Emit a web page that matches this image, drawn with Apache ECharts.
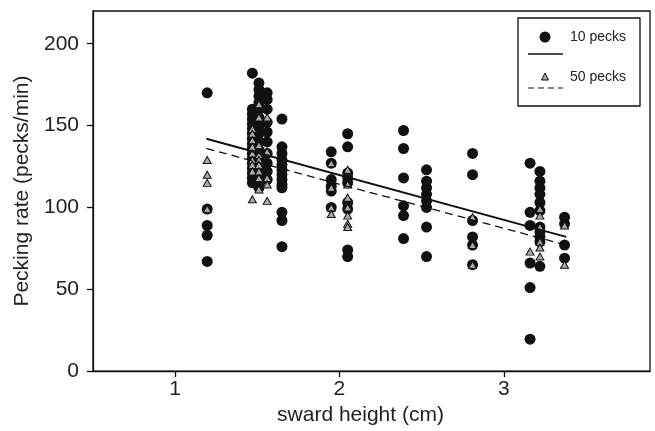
<!DOCTYPE html>
<html>
<head>
<meta charset="utf-8">
<script src="https://cdn.jsdelivr.net/npm/echarts@6/dist/echarts.min.js"></script>
<style>html,body{margin:0;padding:0;background:#fff}#c{width:655px;height:431px}</style>
</head>
<body>
<div id="c"></div>
<script>
// 10 pecks observations [sward height, pecking rate]
const pecks10 = [
  [1.195,170],[1.195,99],[1.195,89],[1.195,83],[1.195,67],
  [1.47,182],[1.47,160],[1.47,157],[1.47,154],[1.47,151],[1.47,148],[1.47,145],[1.47,142],[1.47,139],[1.47,136],[1.47,133],[1.47,130],[1.47,127],[1.47,124],[1.47,121],[1.47,118],[1.47,115],
  [1.51,176],[1.51,172],[1.51,168],[1.51,164],[1.51,160],[1.51,155],[1.51,150],[1.51,145],[1.51,140],[1.51,135],[1.51,130],[1.51,125],[1.51,120],[1.51,115],[1.51,112],
  [1.56,170],[1.56,166],[1.56,160],[1.56,152],[1.56,146],[1.56,140],[1.56,133],[1.56,127],[1.56,122],[1.56,117],
  [1.65,154],[1.65,137],[1.65,133],[1.65,129],[1.65,126],[1.65,123],[1.65,120],[1.65,117],[1.65,114],[1.65,112],[1.65,97],[1.65,92],[1.65,76],
  [1.95,134],[1.95,127],[1.95,117],[1.95,113],[1.95,110],[1.95,100],
  [2.05,145],[2.05,137],[2.05,121],[2.05,118],[2.05,115],[2.05,103],[2.05,99],[2.05,74],[2.05,70],
  [2.39,147],[2.39,136],[2.39,118],[2.39,101],[2.39,95],[2.39,81],
  [2.53,123],[2.53,116],[2.53,112],[2.53,108],[2.53,104],[2.53,100],[2.53,88],[2.53,70],
  [2.81,133],[2.81,120],[2.81,92],[2.81,82],[2.81,77],[2.81,65],
  [3.16,127],[3.16,97],[3.16,89],[3.16,66],[3.16,51],[3.16,19.5],
  [3.22,122],[3.22,116],[3.22,112],[3.22,108],[3.22,103],[3.22,98],[3.22,88],[3.22,85],[3.22,82],[3.22,79],[3.22,64],
  [3.37,94],[3.37,90],[3.37,77],[3.37,69]
];
// 50 pecks observations
const pecks50 = [
  [1.195,129],[1.195,120],[1.195,115],[1.195,99],
  [1.47,148],[1.47,145],[1.47,141],[1.47,137],[1.47,133],[1.47,129],[1.47,126],[1.47,122],[1.47,105],
  [1.51,163],[1.51,155],[1.51,138],[1.51,132],[1.51,129],[1.51,126],[1.51,122],[1.51,118],[1.51,111],
  [1.56,155],[1.56,134],[1.56,118],[1.56,114],[1.56,104],
  [1.95,127],[1.95,112],[1.95,100],[1.95,96],
  [2.05,123],[2.05,114],[2.05,106],[2.05,100],[2.05,95],[2.05,90],[2.05,88],
  [2.81,94],[2.81,77],[2.81,65],
  [3.16,73],
  [3.22,99],[3.22,95],[3.22,88],[3.22,79],[3.22,75.5],[3.22,70],
  [3.37,89],[3.37,65]
];
// regression lines (end points)
const fit10 = [[1.19,142],[3.38,82]];
const fit50 = [[1.19,136],[3.38,77]];
const xTicks = [1,2,3];
const yTicks = [0,50,100,150,200];
const legendNames = ['10 pecks','50 pecks'];

const chart = echarts.init(document.getElementById('c'), null, {renderer:'canvas'});
const font = 'Liberation Sans, Arial, sans-serif';
chart.setOption({
  animation:false,
  backgroundColor:'#fff',
  grid:{left:93,right:5,top:11,bottom:59,show:true,borderColor:'#111',borderWidth:1.3,backgroundColor:'transparent'},
  xAxis:{type:'value',min:0.5,max:3.89,
    name:'sward height (cm)',nameLocation:'middle',nameGap:30,
    nameTextStyle:{fontFamily:font,fontSize:21,color:'#222',padding:[0,22,0,0]},
    axisLine:{show:true,onZero:false,lineStyle:{color:'#111',width:1.3}},
    axisTick:{show:true,inside:false,length:6,customValues:xTicks,lineStyle:{color:'#111',width:1.3}},
    axisLabel:{customValues:xTicks,fontFamily:font,fontSize:21,color:'#222',margin:8},
    splitLine:{show:false}},
  yAxis:{type:'value',min:0,max:220,
    name:'Pecking rate (pecks/min)',nameLocation:'middle',nameGap:58,
    nameTextStyle:{fontFamily:font,fontSize:21,color:'#222'},
    axisLine:{show:true,onZero:false,lineStyle:{color:'#111',width:1.3}},
    axisTick:{show:true,inside:false,length:6,customValues:yTicks,lineStyle:{color:'#111',width:1.3}},
    axisLabel:{customValues:yTicks,fontFamily:font,fontSize:21,color:'#222',margin:14},
    splitLine:{show:false}},
  series:[
    {name:legendNames[0],type:'scatter',data:pecks10,symbol:'circle',symbolSize:11,
     itemStyle:{color:'#111',opacity:1},z:2},
    {name:legendNames[1],type:'scatter',data:pecks50,symbol:'triangle',symbolSize:[8,7],
     itemStyle:{color:'#aaa',borderColor:'#111',borderWidth:1,opacity:1},z:3},
    {type:'line',data:fit10,showSymbol:false,lineStyle:{color:'#111',width:2,type:'solid'},z:4},
    {type:'line',data:fit50,showSymbol:false,lineStyle:{color:'#111',width:1.3,type:[8,5]},z:4}
  ],
  graphic:[
    {type:'rect',shape:{x:518,y:18,width:122,height:88},style:{fill:'#fff',stroke:'#111',lineWidth:1.3},z:10},
    {type:'circle',shape:{cx:545,cy:37,r:5.5},style:{fill:'#111'},z:11},
    {type:'text',x:570,y:37,style:{text:legendNames[0],font:'14px '+font,fill:'#222',textVerticalAlign:'middle'},z:11},
    {type:'line',shape:{x1:528,y1:54,x2:563,y2:54},style:{stroke:'#111',lineWidth:1.6},z:11},
    {type:'polygon',shape:{points:[[545,73],[541.5,80],[548.5,80]]},style:{fill:'#aaa',stroke:'#111',lineWidth:1},z:11},
    {type:'text',x:570,y:77,style:{text:legendNames[1],font:'14px '+font,fill:'#222',textVerticalAlign:'middle'},z:11},
    {type:'line',shape:{x1:528,y1:88,x2:563,y2:88},style:{stroke:'#111',lineWidth:1.2,lineDash:[6,4]},z:11}
  ]
});
</script>
</body>
</html>
